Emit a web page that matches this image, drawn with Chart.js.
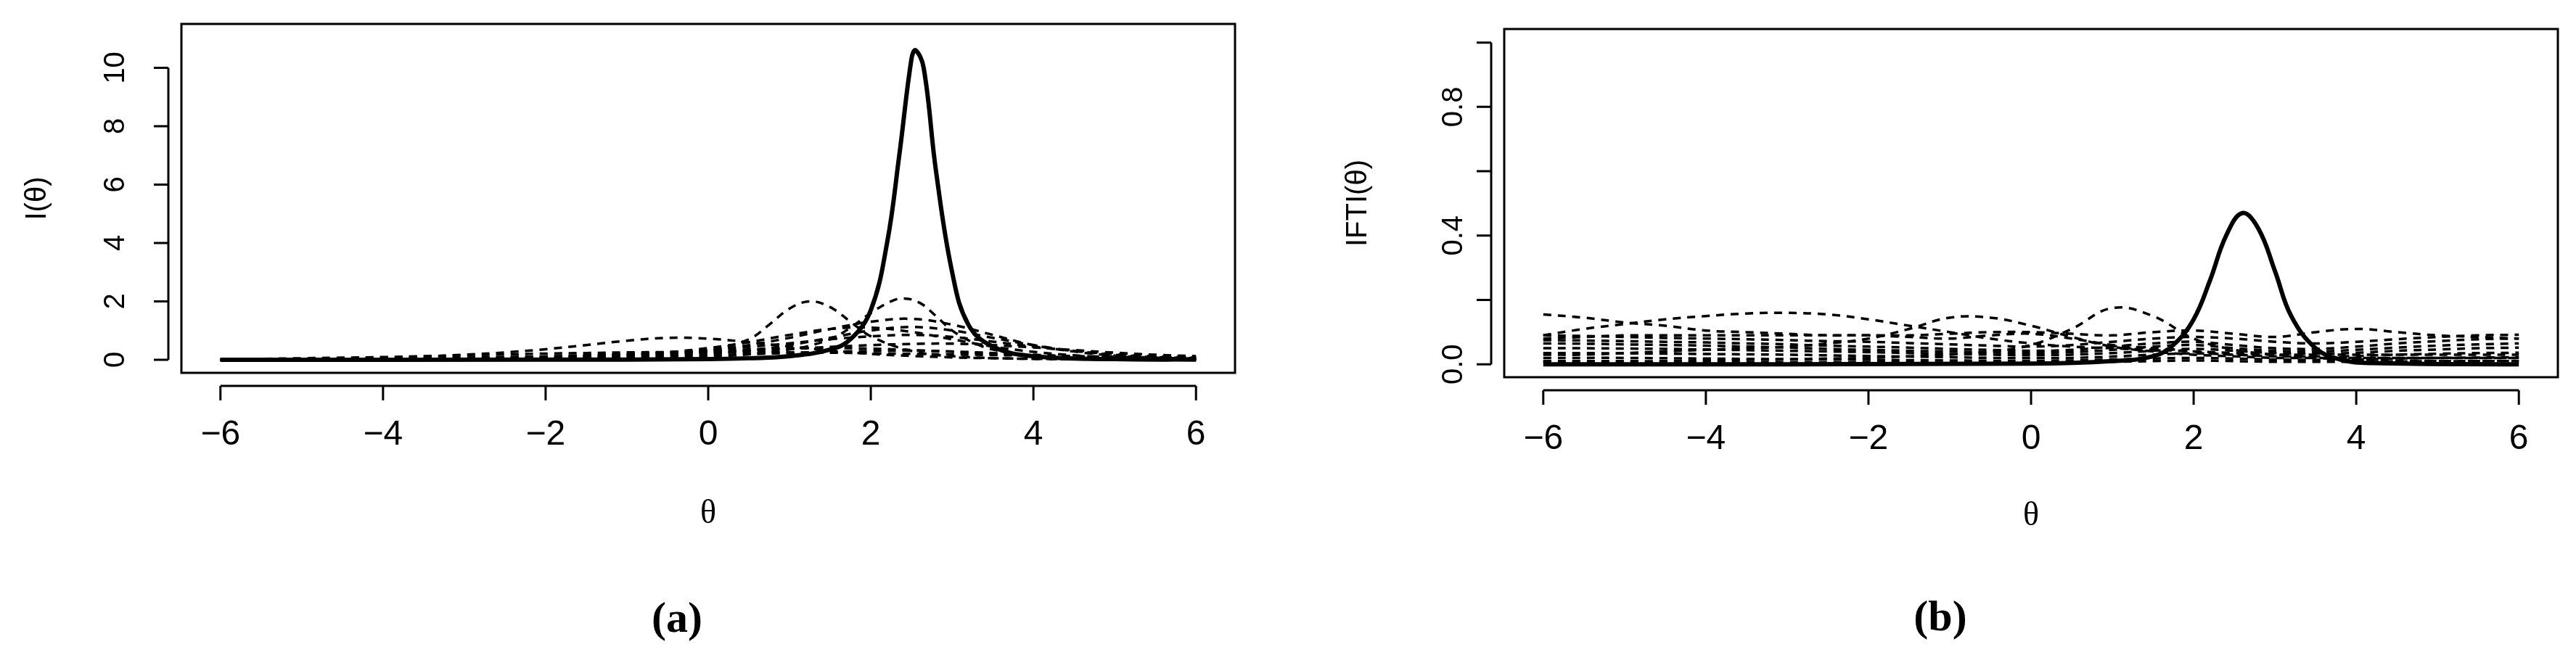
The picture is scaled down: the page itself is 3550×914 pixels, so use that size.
<!DOCTYPE html>
<html>
<head>
<meta charset="utf-8">
<script src="https://cdn.jsdelivr.net/npm/chart.js@4"></script>
<style>
  body { margin: 0; background: #fff; width: 3550px; height: 914px; position: relative; overflow: hidden; }
  .panel { position: absolute; top: 0; width: 1775px; height: 914px; }
</style>
</head>
<body>
<div class="panel" style="left:0"><canvas id="chart-a"></canvas></div>
<div class="panel" style="left:1775px"><canvas id="chart-b"></canvas></div>
<script>
// shared theta grid (-6..6, step 0.5)
const thetaGrid = [-6, -5.5, -5, -4.5, -4, -3.5, -3, -2.5, -2, -1.5, -1, -0.5, 0, 0.5, 1, 1.5, 2, 2.5, 3, 3.5, 4, 4.5, 5, 5.5, 6];
const xTicks = [-6, -4, -2, 0, 2, 4, 6];

// (a) item information, selected item (solid)
const infoSelectedTheta = [-6, -2, 0, 0.5, 1, 1.5, 1.75, 2, 2.2, 2.35, 2.5, 2.55, 2.65, 2.8, 3, 3.2, 3.5, 4, 5, 6];
const infoSelected = [0, 0.002, 0.02, 0.05, 0.12, 0.35, 0.7, 1.7, 4, 7, 10.3, 10.6, 10, 6.5, 3, 1.2, 0.45, 0.12, 0.02, 0.005];
// (a) two sharper other items
const infoPeak1Theta = [-6, -3, -2, -1, -0.5, 0, 0.5, 0.75, 1, 1.25, 1.5, 1.75, 2, 2.5, 3, 4, 6];
const infoPeak1 = [0, 0.005, 0.02, 0.08, 0.15, 0.3, 0.7, 1.2, 1.75, 2.0, 1.8, 1.3, 0.8, 0.3, 0.12, 0.03, 0];
const infoPeak2Theta = [-6, -2, 0, 1, 1.5, 1.75, 2, 2.25, 2.4, 2.6, 2.8, 3, 3.25, 3.5, 4, 5, 6];
const infoPeak2 = [0, 0.01, 0.1, 0.35, 0.7, 1.1, 1.6, 2.0, 2.1, 1.95, 1.5, 1.0, 0.6, 0.35, 0.12, 0.02, 0];
// (a) other items on thetaGrid
const infoOthers = [
  [0, 0.01, 0.02, 0.04, 0.07, 0.11, 0.17, 0.25, 0.36, 0.5, 0.65, 0.75, 0.72, 0.6, 0.45, 0.32, 0.2, 0.13, 0.08, 0.05, 0.03, 0.02, 0.01, 0.005, 0],
  [0, 0, 0, 0, 0, 0.01, 0.01, 0.02, 0.04, 0.07, 0.12, 0.2, 0.32, 0.5, 0.75, 1.05, 1.3, 1.4, 1.2, 0.85, 0.5, 0.28, 0.14, 0.07, 0.03],
  [0, 0, 0, 0, 0, 0.01, 0.02, 0.03, 0.05, 0.09, 0.15, 0.25, 0.4, 0.6, 0.85, 1.05, 1.1, 0.95, 0.7, 0.45, 0.27, 0.15, 0.08, 0.04, 0.02],
  [0, 0, 0, 0, 0, 0, 0.01, 0.01, 0.02, 0.04, 0.07, 0.12, 0.2, 0.32, 0.5, 0.75, 1.0, 1.12, 1.0, 0.75, 0.5, 0.3, 0.17, 0.09, 0.05],
  [0, 0, 0.01, 0.01, 0.02, 0.03, 0.05, 0.07, 0.1, 0.14, 0.19, 0.26, 0.34, 0.44, 0.56, 0.7, 0.8, 0.85, 0.78, 0.62, 0.45, 0.3, 0.19, 0.12, 0.07],
  [0.01, 0.01, 0.02, 0.03, 0.04, 0.05, 0.07, 0.09, 0.11, 0.14, 0.17, 0.21, 0.26, 0.31, 0.37, 0.44, 0.5, 0.54, 0.55, 0.5, 0.42, 0.33, 0.24, 0.17, 0.12],
  [0.02, 0.03, 0.05, 0.07, 0.09, 0.12, 0.15, 0.18, 0.21, 0.23, 0.25, 0.26, 0.26, 0.26, 0.25, 0.24, 0.22, 0.2, 0.18, 0.16, 0.14, 0.12, 0.1, 0.08, 0.07],
  [0, 0.01, 0.01, 0.02, 0.03, 0.04, 0.06, 0.08, 0.11, 0.15, 0.19, 0.24, 0.3, 0.35, 0.39, 0.4, 0.38, 0.33, 0.27, 0.2, 0.14, 0.1, 0.07, 0.05, 0.03],
  [0, 0, 0, 0.01, 0.01, 0.02, 0.03, 0.04, 0.05, 0.07, 0.09, 0.12, 0.15, 0.19, 0.23, 0.27, 0.3, 0.31, 0.28, 0.23, 0.17, 0.12, 0.08, 0.05, 0.03]
];

// (b) IFTI, selected item (solid)
const iftiSelectedTheta = [-6, 0, 1, 1.5, 1.75, 2, 2.2, 2.4, 2.6, 2.8, 3, 3.2, 3.5, 3.8, 4.2, 6];
const iftiSelected = [0, 0.002, 0.01, 0.025, 0.06, 0.14, 0.26, 0.4, 0.47, 0.42, 0.29, 0.15, 0.05, 0.015, 0.004, 0];
// (b) other items on thetaGrid
const iftiOthers = [
  [0.155, 0.145, 0.13, 0.12, 0.105, 0.1, 0.095, 0.09, 0.09, 0.085, 0.08, 0.09, 0.095, 0.08, 0.06, 0.05, 0.04, 0.03, 0.03, 0.025, 0.02, 0.02, 0.02, 0.02, 0.02],
  [0.09, 0.11, 0.125, 0.14, 0.15, 0.158, 0.16, 0.155, 0.14, 0.12, 0.1, 0.08, 0.065, 0.055, 0.05, 0.045, 0.04, 0.035, 0.03, 0.03, 0.03, 0.03, 0.03, 0.03, 0.03],
  [0.03, 0.03, 0.035, 0.04, 0.045, 0.05, 0.055, 0.065, 0.08, 0.11, 0.145, 0.145, 0.12, 0.085, 0.055, 0.04, 0.03, 0.025, 0.02, 0.02, 0.02, 0.02, 0.02, 0.02, 0.02],
  [0.01, 0.01, 0.01, 0.01, 0.012, 0.014, 0.016, 0.018, 0.02, 0.025, 0.03, 0.04, 0.06, 0.11, 0.175, 0.15, 0.08, 0.045, 0.03, 0.02, 0.015, 0.012, 0.01, 0.01, 0.01],
  [0.08, 0.085, 0.09, 0.09, 0.09, 0.09, 0.09, 0.09, 0.09, 0.09, 0.095, 0.1, 0.1, 0.095, 0.09, 0.1, 0.105, 0.095, 0.085, 0.1, 0.11, 0.1, 0.09, 0.085, 0.08],
  [0.09, 0.088, 0.085, 0.082, 0.08, 0.078, 0.075, 0.072, 0.07, 0.066, 0.062, 0.058, 0.055, 0.06, 0.07, 0.08, 0.085, 0.08, 0.07, 0.065, 0.07, 0.078, 0.085, 0.09, 0.092],
  [0.075, 0.074, 0.072, 0.07, 0.068, 0.065, 0.062, 0.058, 0.055, 0.052, 0.048, 0.045, 0.042, 0.045, 0.055, 0.065, 0.07, 0.06, 0.05, 0.048, 0.055, 0.065, 0.072, 0.078, 0.08],
  [0.065, 0.064, 0.062, 0.06, 0.058, 0.055, 0.052, 0.048, 0.045, 0.042, 0.04, 0.037, 0.035, 0.038, 0.045, 0.055, 0.06, 0.05, 0.042, 0.04, 0.045, 0.052, 0.058, 0.062, 0.065],
  [0.05, 0.05, 0.049, 0.048, 0.046, 0.044, 0.042, 0.04, 0.038, 0.035, 0.032, 0.03, 0.028, 0.03, 0.035, 0.042, 0.048, 0.042, 0.035, 0.033, 0.036, 0.042, 0.046, 0.05, 0.052],
  [0.035, 0.035, 0.034, 0.033, 0.032, 0.031, 0.03, 0.028, 0.026, 0.024, 0.022, 0.02, 0.019, 0.02, 0.024, 0.03, 0.034, 0.03, 0.025, 0.024, 0.026, 0.03, 0.033, 0.035, 0.036],
  [0.02, 0.02, 0.02, 0.019, 0.018, 0.017, 0.016, 0.015, 0.014, 0.013, 0.012, 0.011, 0.01, 0.012, 0.015, 0.018, 0.02, 0.018, 0.015, 0.014, 0.015, 0.018, 0.02, 0.021, 0.022],
  [0.008, 0.008, 0.008, 0.008, 0.007, 0.007, 0.007, 0.006, 0.006, 0.006, 0.005, 0.005, 0.005, 0.006, 0.008, 0.01, 0.012, 0.01, 0.008, 0.008, 0.008, 0.009, 0.01, 0.01, 0.01]
];

function pairs(xs, ys) {
  return xs.map((x, i) => ({ x: x, y: ys[i] }));
}

function solidSet(xs, ys) {
  return { data: pairs(xs, ys), borderColor: '#000', borderWidth: 6, pointRadius: 0, tension: 0.4, order: 0 };
}

function dashedSet(xs, ys) {
  return { data: pairs(xs, ys), borderColor: '#000', borderWidth: 3.5, borderDash: [11, 9], pointRadius: 0, tension: 0.4, order: 1 };
}

/**
 * Draws the R-style frame, axes, tick labels and titles
 */
function rFramePlugin(cfg) {
  return {
    id: 'rframe',
    afterDraw(chart) {
      const ctx = chart.ctx;
      const area = chart.chartArea;
      const xs = chart.scales.x;
      const ys = chart.scales.y;
      ctx.save();
      ctx.strokeStyle = '#000';
      ctx.fillStyle = '#000';
      ctx.lineWidth = 3;
      ctx.strokeRect(area.left, area.top, area.right - area.left, area.bottom - area.top);

      // x axis
      const xAxisY = area.bottom + 18;
      ctx.beginPath();
      ctx.moveTo(xs.getPixelForValue(xTicks[0]), xAxisY);
      ctx.lineTo(xs.getPixelForValue(xTicks[xTicks.length - 1]), xAxisY);
      xTicks.forEach((t) => {
        const px = xs.getPixelForValue(t);
        ctx.moveTo(px, xAxisY);
        ctx.lineTo(px, xAxisY + 20);
      });
      ctx.stroke();
      ctx.font = '48px "Liberation Sans Narrow", "Liberation Sans", sans-serif';
      ctx.textAlign = 'center';
      ctx.textBaseline = 'middle';
      xTicks.forEach((t) => {
        ctx.fillText(t < 0 ? '\u2212' + Math.abs(t) : String(t), xs.getPixelForValue(t), cfg.xLabelY);
      });
      ctx.font = '46px "Liberation Serif", serif';
      ctx.fillText('\u03b8', (area.left + area.right) / 2, cfg.xTitleY);

      // y axis
      const yAxisX = area.left - 18;
      const yt = cfg.yTicks;
      ctx.beginPath();
      ctx.moveTo(yAxisX, ys.getPixelForValue(yt[0]));
      ctx.lineTo(yAxisX, ys.getPixelForValue(yt[yt.length - 1]));
      yt.forEach((t) => {
        const py = ys.getPixelForValue(t);
        ctx.moveTo(yAxisX, py);
        ctx.lineTo(yAxisX - 20, py);
      });
      ctx.stroke();
      ctx.font = '40px "Liberation Sans", sans-serif';
      cfg.yLabels.forEach((lab) => {
        ctx.save();
        ctx.translate(cfg.yLabelX, ys.getPixelForValue(lab.v));
        ctx.rotate(-Math.PI / 2);
        ctx.fillText(lab.t, 0, 0);
        ctx.restore();
      });
      ctx.save();
      ctx.translate(cfg.yTitleX, (area.top + area.bottom) / 2);
      ctx.rotate(-Math.PI / 2);
      ctx.fillText(cfg.yTitle, 0, 0);
      ctx.restore();

      // panel caption
      ctx.font = 'bold 60px "Liberation Serif", serif';
      ctx.fillText(cfg.caption, cfg.captionX, cfg.captionY);
      ctx.restore();
    },
  };
}

function makeChart(id, datasets, yMin, yMax, padding, cfg) {
  return new Chart(document.getElementById(id).getContext('2d'), {
    type: 'line',
    data: { datasets: datasets },
    options: {
      responsive: true,
      maintainAspectRatio: false,
      animation: false,
      layout: { padding: padding },
      plugins: { legend: { display: false }, tooltip: { enabled: false } },
      scales: {
        x: { type: 'linear', min: -6.48, max: 6.48, display: false },
        y: { type: 'linear', min: yMin, max: yMax, display: false },
      },
    },
    plugins: [rFramePlugin(cfg)],
  });
}

// Render panel (a)
const setsA = [solidSet(infoSelectedTheta, infoSelected), dashedSet(infoPeak1Theta, infoPeak1), dashedSet(infoPeak2Theta, infoPeak2)]
  .concat(infoOthers.map((ys) => dashedSet(thetaGrid, ys)));
makeChart('chart-a', setsA, -0.45, 11.5, { left: 250, right: 73, top: 33, bottom: 400 }, {
  yTicks: [0, 2, 4, 6, 8, 10],
  yLabels: [0, 2, 4, 6, 8, 10].map((v) => ({ v: v, t: String(v) })),
  yLabelX: 160, yTitleX: 52, yTitle: 'I(\u03b8)',
  xLabelY: 600, xTitleY: 709,
  caption: '(a)', captionX: 933, captionY: 855,
});

// Render panel (b)
const setsB = [solidSet(iftiSelectedTheta, iftiSelected)].concat(iftiOthers.map((ys) => dashedSet(thetaGrid, ys)));
makeChart('chart-b', setsB, -0.04, 1.042, { left: 298, right: 25, top: 40, bottom: 394 }, {
  yTicks: [0, 0.2, 0.4, 0.6, 0.8, 1.0],
  yLabels: [{ v: 0, t: '0.0' }, { v: 0.4, t: '0.4' }, { v: 0.8, t: '0.8' }],
  yLabelX: 229, yTitleX: 97, yTitle: 'IFTI(\u03b8)',
  xLabelY: 606, xTitleY: 712,
  caption: '(b)', captionX: 899, captionY: 853,
});
</script>
</body>
</html>
